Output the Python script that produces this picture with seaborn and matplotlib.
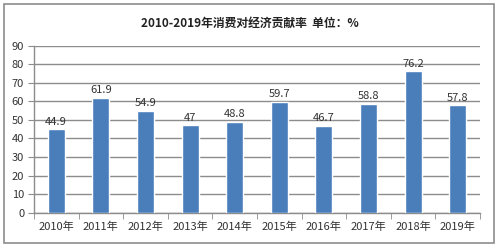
import matplotlib
matplotlib.use("Agg")
import matplotlib.pyplot as plt
import seaborn as sns
import pandas as pd
from matplotlib.patches import Rectangle

years = ["2010年", "2011年", "2012年", "2013年", "2014年", "2015年", "2016年", "2017年", "2018年", "2019年"]
values = [44.9, 61.9, 54.9, 47, 48.8, 59.7, 46.7, 58.8, 76.2, 57.8]
labels = ["44.9", "61.9", "54.9", "47", "48.8", "59.7", "46.7", "58.8", "76.2", "57.8"]
title = "2010-2019年消费对经济贡献率  单位：%"

sns.set_style("white")
plt.rcParams['font.family'] = ['Noto Sans CJK SC', 'DejaVu Sans']

df = pd.DataFrame({"year": years, "value": values})

fig = plt.figure(figsize=(4.99, 2.47), dpi=100)
ax = fig.add_axes([0.068, 0.139, 0.894, 0.676])
sns.barplot(data=df, x="year", y="value", color="#4a7ebb", saturation=1, width=0.38, ax=ax, zorder=3)

ax.set_ylim(0, 90)
ax.set_yticks(range(0, 91, 10))
ax.set_xlim(-0.5, len(years) - 0.5)
ax.yaxis.grid(True, color="#8c8c8c", linewidth=1.0, zorder=0)
ax.set_axisbelow(True)
for s in ["top", "right"]:
    ax.spines[s].set_visible(False)
for s in ["left", "bottom"]:
    ax.spines[s].set_color("#8c8c8c")
    ax.spines[s].set_linewidth(1.0)
ax.set_xlabel("")
ax.set_ylabel("")
ax.tick_params(axis="y", left=True, length=4, color="#8c8c8c", labelsize=8, labelcolor="#333333", pad=3)
ax.tick_params(axis="x", bottom=False, labelsize=8, labelcolor="#333333", pad=3)
# x ticks between categories
ax.set_xticks([i - 0.5 for i in range(len(years) + 1)], minor=True)
ax.tick_params(axis="x", which="minor", bottom=True, length=4, color="#8c8c8c", direction="out")

for i, (v, t) in enumerate(zip(values, labels)):
    ax.text(i, v + 1.5, t, ha="center", va="bottom", fontsize=8, color="#333333")

fig.text(0.5, 0.905, title, ha="center", va="center", fontsize=8.5, fontweight="bold", color="#222222")

fig.patches.append(Rectangle((4 / 499, 4 / 247), 490 / 499, 239 / 247, transform=fig.transFigure,
                             fill=False, edgecolor="#8c8c8c", linewidth=1.2))

fig.savefig("out.png", dpi=100, facecolor="white")
